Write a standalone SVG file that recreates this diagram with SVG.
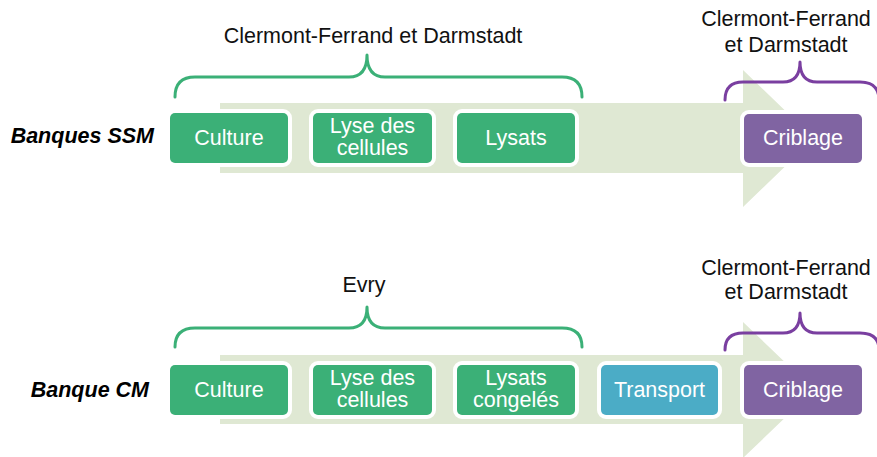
<svg xmlns="http://www.w3.org/2000/svg" width="877" height="457" viewBox="0 0 877 457">
<style>
.box{stroke:#fff;stroke-width:8;paint-order:stroke}
.g{fill:#3BB077}
.p{fill:#8064A2}
.b{fill:#4BACC6}
.t{font-family:"Liberation Sans",Arial,sans-serif;font-size:21.5px;fill:#fff;text-anchor:middle}
.lbl{font-family:"Liberation Sans",Arial,sans-serif;font-size:21.5px;fill:#111;text-anchor:middle}
.side{font-family:"Liberation Sans",Arial,sans-serif;font-size:21.5px;font-weight:bold;font-style:italic;fill:#000;text-anchor:end}
.arrow{fill:#DFE8D3}
.brace{fill:none;stroke-width:3;stroke-linecap:round;stroke-linejoin:round}
.bg{stroke:#3BB077}
.bp{stroke:#7A3FA0}
</style>
<g id="arrows">
<polygon class="arrow" points="220,103 743,103 743,70 814,138.5 743,207 743,173 220,173"/>
<polygon class="arrow" points="220,355 743,355 743,322 814,390 743,458 743,424 220,424"/>
</g>
<g id="connectors">
<path class="brace bg" d="M175,97 Q175,77 195,77 L349,77 Q367,77 367,55 Q367,77 385,77 L562,77 Q582,77 582,97"/>
<path class="brace bp" d="M725,100 Q725,82 743,82 L783,82 Q800,82 800,62 Q800,82 817,82 L860,82 Q879,82 879,100"/>
<path class="brace bg" d="M175,347 Q175,328 195,328 L349,328 Q367,328 367,307 Q367,328 385,328 L562,328 Q582,328 582,347"/>
<path class="brace bp" d="M725,350 Q725,333 743,333 L783,333 Q800,333 800,313 Q800,333 817,333 L860,333 Q879,333 879,350"/>
</g>
<g id="labels">
<text class="lbl" x="373" y="43">Clermont-Ferrand et Darmstadt</text>
<text class="lbl" x="786" y="26">Clermont-Ferrand</text>
<text class="lbl" x="786" y="52">et Darmstadt</text>
<text class="lbl" x="364" y="292">Evry</text>
<text class="lbl" x="786" y="275">Clermont-Ferrand</text>
<text class="lbl" x="786" y="299">et Darmstadt</text>
<text class="side" x="154" y="143">Banques SSM</text>
<text class="side" x="149" y="397">Banque CM</text>
</g>
<g id="ssm-culture"><rect class="box g" x="170" y="113" width="118" height="50" rx="5"/><text class="t" x="229" y="145">Culture</text></g>
<g id="ssm-lyse"><rect class="box g" x="313" y="113" width="119" height="50" rx="5"/><text class="t" x="372.5" y="133">Lyse des</text><text class="t" x="372.5" y="155">cellules</text></g>
<g id="ssm-lysats"><rect class="box g" x="457" y="113" width="118" height="50" rx="5"/><text class="t" x="516" y="145">Lysats</text></g>
<g id="ssm-criblage"><rect class="box p" x="744" y="114" width="118" height="49" rx="5"/><text class="t" x="803" y="145">Criblage</text></g>
<g id="cm-culture"><rect class="box g" x="170" y="365" width="118" height="50" rx="5"/><text class="t" x="229" y="397">Culture</text></g>
<g id="cm-lyse"><rect class="box g" x="313" y="365" width="119" height="50" rx="5"/><text class="t" x="372.5" y="385">Lyse des</text><text class="t" x="372.5" y="407">cellules</text></g>
<g id="cm-lysats"><rect class="box g" x="457" y="365" width="118" height="50" rx="5"/><text class="t" x="516" y="385">Lysats</text><text class="t" x="516" y="407">congelés</text></g>
<g id="cm-transport"><rect class="box b" x="601" y="365" width="117" height="50" rx="5"/><text class="t" x="659.5" y="397">Transport</text></g>
<g id="cm-criblage"><rect class="box p" x="744" y="365" width="118" height="50" rx="5"/><text class="t" x="803" y="397">Criblage</text></g>
</svg>
